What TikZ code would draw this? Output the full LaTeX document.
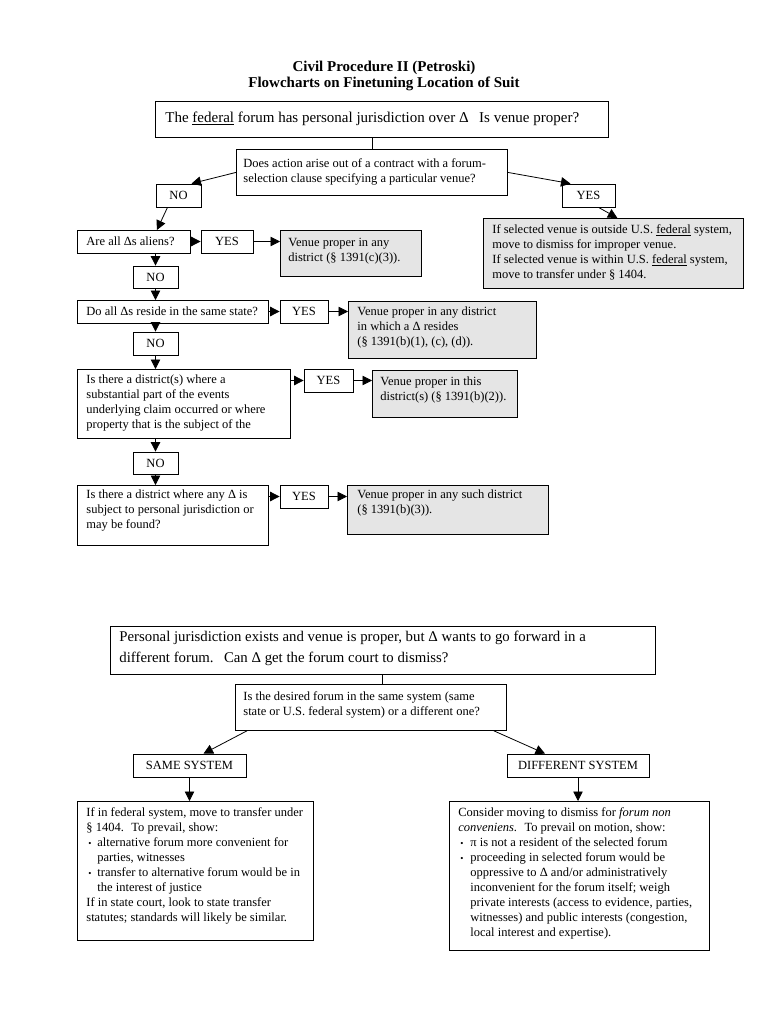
\documentclass[tikz,border=0pt]{standalone}
\usepackage{fontspec}
\setmainfont{Liberation Serif}
\usetikzlibrary{arrows.meta,calc}

\newcommand\bodyf{\fontsize{12.5}{15}\selectfont}
\newcommand\bigf{\fontsize{15}{21}\selectfont}
\newcommand\bigbf{\fontsize{14.8}{21}\selectfont}
\newcommand\titlef{\fontsize{15}{16.5}\selectfont\bfseries}
% width, height, left pad, first baseline offset, text
\newcommand\tbx[5]{\hbox to #1{\hskip#3\relax\parbox[c][#2][t]{\dimexpr#1+100pt\relax}{\vspace*{\dimexpr#4-\ht\strutbox\relax}\strut#5}\hss}}
\newcommand\bul[1]{\par\hangindent=#1\hangafter=1\noindent\hbox to #1{\hskip2pt{\fontsize{9}{9}\selectfont •}\hss}}

\tikzset{
  box/.style={draw, line width=0.8pt, inner sep=0pt, anchor=north west, font=\bodyf},
  gbox/.style={box, fill=black!10},
  sbox/.style={draw, line width=0.8pt, inner sep=0pt, font=\bodyf, minimum height=23pt},
  arr/.style={line width=0.8pt, -{Triangle[length=9.5pt,width=9.5pt]}},
  conn/.style={line width=0.8pt}
}

\begin{document}
\begin{tikzpicture}[x=1pt,y=-1pt]
\fill[white] (0,0) rectangle (768,1024);
\useasboundingbox (0,0) rectangle (768,1024);

\node[font=\titlef, align=center] (title) at (384,76) {Civil Procedure II (Petroski)\\Flowcharts on Finetuning Location of Suit};

% ---------- first chart ----------
\node[box, font=\bigf] (t1) at (155,101) {\tbx{453pt}{36pt}{10pt}{21pt}{The \underline{federal} forum has personal jurisdiction over Δ\hspace{0.7em}Is venue proper?}};
\node[box] (q1) at (236,149) {\tbx{271pt}{46pt}{7pt}{18.5pt}{Does action arise out of a contract with a forum-\\selection clause specifying a particular venue?}};
\node[sbox, minimum width=45pt] (noa) at (178.5,195.5) {NO};
\node[sbox, minimum width=53pt] (yesa) at (588.5,195.5) {YES};
\node[gbox] (r1) at (483,218) {\tbx{260pt}{70pt}{9pt}{15.5pt}{If selected venue is outside U.S. \underline{federal} system,\\move to dismiss for improper venue.\\If selected venue is within U.S. \underline{federal} system,\\move to transfer under § 1404.}};

\node[box] (a1) at (77,230) {\tbx{113pt}{23pt}{9pt}{15.5pt}{Are all Δs aliens?}};
\node[sbox, minimum width=52pt] (y1) at (227,241.5) {YES};
\node[gbox] (g1) at (280,230) {\tbx{141pt}{46pt}{8pt}{16.5pt}{Venue proper in any\\district (§ 1391(c)(3)).}};
\node[sbox, minimum width=45pt, minimum height=22pt] (n2) at (155.5,277) {NO};

\node[box] (a2) at (77,300) {\tbx{191pt}{23pt}{9pt}{15.5pt}{Do all Δs reside in the same state?}};
\node[sbox, minimum width=48pt] (y2) at (304,311.5) {YES};
\node[gbox] (g2) at (348,301) {\tbx{188pt}{57pt}{9pt}{14.5pt}{Venue proper in any district\\in which a Δ resides\\(§ 1391(b)(1), (c), (d)).}};
\node[sbox, minimum width=45pt] (n3) at (155.5,343.5) {NO};

\node[box] (a3) at (77,369) {\tbx{213pt}{69pt}{9pt}{14.5pt}{Is there a district(s) where a\\substantial part of the events\\underlying claim occurred or where\\property that is the subject of the}};
\node[sbox, minimum width=49pt] (y3) at (328.5,380.5) {YES};
\node[gbox] (g3) at (372,370) {\tbx{145pt}{47pt}{8pt}{15.5pt}{Venue proper in this\\district(s) (§ 1391(b)(2)).}};
\node[sbox, minimum width=45pt, minimum height=22pt] (n4) at (155.5,463) {NO};

\node[box] (a4) at (77,485) {\tbx{191pt}{60pt}{9pt}{13.5pt}{Is there a district where any Δ is\\subject to personal jurisdiction or\\may be found?}};
\node[sbox, minimum width=48pt] (y4) at (304,496.5) {YES};
\node[gbox] (g4) at (347,485) {\tbx{201pt}{49pt}{10pt}{13.5pt}{Venue proper in any such district\\(§ 1391(b)(3)).}};

% connectors, first chart
\draw[conn] (q1.north |- t1.south) -- (q1.north);
\draw[arr] (q1.west) -- ([xshift=13pt]noa.north);
\draw[arr] (q1.east) -- ([xshift=-18pt]yesa.north);
\draw[arr] ([xshift=10pt]yesa.south) -- ([xshift=4pt]r1.north);
\draw[arr] ([xshift=-11pt]noa.south) -- ([xshift=23pt]a1.north);

\draw[arr] (a1.east |- y1.west) -- (y1.west);
\draw[arr] (y1.east) -- (g1.west |- y1.east);
\draw[arr] (a2.east |- y2.west) -- (y2.west);
\draw[arr] (y2.east) -- (g2.west |- y2.east);
\draw[arr] (a3.east |- y3.west) -- (y3.west);
\draw[arr] (y3.east) -- (g3.west |- y3.east);
\draw[arr] (a4.east |- y4.west) -- (y4.west);
\draw[arr] (y4.east) -- (g4.west |- y4.east);

\draw[arr] (a1.south -| n2.north) -- (n2.north);
\draw[arr] (n2.south) -- (n2.south |- a2.north);
\draw[arr] (a2.south -| n3.north) -- (n3.north);
\draw[arr] (n3.south) -- (n3.south |- a3.north);
\draw[arr] (a3.south -| n4.north) -- (n4.north);
\draw[arr] (n4.south) -- (n4.south |- a4.north);

% ---------- second chart ----------
\node[box, font=\bigbf] (b1) at (110,626) {\tbx{545pt}{48pt}{9pt}{15pt}{Personal jurisdiction exists and venue is proper, but Δ wants to go forward in a\\different forum.\hspace{0.7em}Can Δ get the forum court to dismiss?}};
\node[box] (bq) at (235,684) {\tbx{271pt}{46pt}{8pt}{16.5pt}{Is the desired forum in the same system (same\\state or U.S. federal system) or a different one?}};
\node[sbox, minimum width=113pt] (ss) at (189.5,765.5) {SAME SYSTEM};
\node[sbox, minimum width=142pt] (ds) at (578,765.5) {DIFFERENT SYSTEM};

\node[box] (lbx) at (77,801) {\tbx{236pt}{139pt}{9pt}{15.5pt}{If in federal system, move to transfer under\\§ 1404.\hspace{0.6em}To prevail, show:\bul{11pt}alternative forum more convenient for\\parties, witnesses\bul{11pt}transfer to alternative forum would be in\\the interest of justice\par If in state court, look to state transfer\\statutes; standards will likely be similar.}};
\node[box] (rbx) at (449,801) {\tbx{260pt}{149pt}{9pt}{15.5pt}{Consider moving to dismiss for \textit{forum non}\\\textit{conveniens}.\hspace{0.6em}To prevail on motion, show:\bul{12pt}π is not a resident of the selected forum\bul{12pt}proceeding in selected forum would be\\oppressive to Δ and/or administratively\\inconvenient for the forum itself; weigh\\private interests (access to evidence, parties,\\witnesses) and public interests (congestion,\\local interest and expertise).}};

% connectors, second chart
\draw[conn] ([xshift=11.5pt]bq.north |- b1.south) -- ([xshift=11.5pt]bq.north);
\draw[arr] ([xshift=12pt]bq.south west) -- ([xshift=14pt]ss.north);
\draw[arr] ([xshift=-13pt]bq.south east) -- ([xshift=-33pt]ds.north);
\draw[arr] (ss.south) -- (ss.south |- lbx.north);
\draw[arr] (ds.south) -- (ds.south |- rbx.north);
\end{tikzpicture}
\end{document}
